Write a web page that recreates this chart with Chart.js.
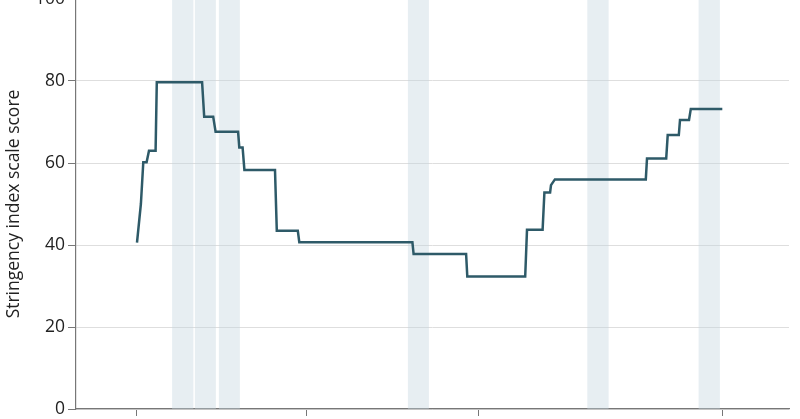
<!DOCTYPE html>
<html>
<head>
<meta charset="utf-8">
<script src="https://cdn.jsdelivr.net/npm/chart.js@4/dist/chart.umd.min.js"></script>
<style>
  html, body { margin: 0; padding: 0; background: #fff; overflow: hidden; }
  #wrap { position: absolute; left: 0; top: -40px; width: 800px; height: 470px; }
</style>
</head>
<body>
<div id="wrap"><canvas id="c"></canvas></div>
<script>
// Days since start of series (x) and stringency index score (y)
const days = [0, 1.3, 2.1, 3.2, 4, 6.2, 6.6, 21.7, 22.4, 25.4, 26.2, 33.7, 34.1, 35.2, 35.8,
  46, 46.6, 53.6, 54.1, 91.8, 92.2, 109.7, 110.1, 129.4, 130, 135.2, 135.8, 137.7, 138,
  138.3, 139.3, 169.6, 170, 176.4, 176.9, 180.6, 181, 184, 184.6, 195.1];
const scores = [40.6, 50, 60.2, 60.2, 63.0, 63.0, 79.7, 79.7, 71.3, 71.3, 67.6, 67.6, 63.8, 63.8, 58.3,
  58.3, 43.5, 43.5, 40.7, 40.7, 37.8, 37.8, 32.3, 32.3, 43.7, 43.7, 52.8, 52.8, 54.6,
  54.6, 56.0, 56.0, 61.1, 61.1, 66.8, 66.8, 70.5, 70.5, 73.2, 73.2];
// Shaded periods (start day, end day)
const bandStarts = [11.7, 19.3, 27.3, 90.3, 150.1, 187.2];
const bandEnds   = [18.8, 26.3, 34.3, 97.3, 157.2, 194.3];
// X tick positions (days), labels not shown in the crop
const xTickValues = [0, 56.5, 113.7, 195];
const yTitle = 'Stringency index scale score';

const points = days.map((d, i) => ({ x: d, y: scores[i] }));

const bandPlugin = {
  id: 'bands',
  beforeDatasetsDraw(chart) {
    const { ctx, chartArea, scales } = chart;
    ctx.save();
    ctx.fillStyle = 'rgba(195,212,222,0.4)';
    bandStarts.forEach((s, i) => {
      const x1 = scales.x.getPixelForValue(s);
      const x2 = scales.x.getPixelForValue(bandEnds[i]);
      ctx.fillRect(x1, chartArea.top, x2 - x1, chartArea.bottom - chartArea.top);
    });
    ctx.restore();
  }
};

new Chart(document.getElementById('c'), {
  type: 'line',
  data: {
    datasets: [{
      data: points,
      borderColor: '#2e5a68',
      borderWidth: 2.5,
      pointRadius: 0,
      tension: 0,
      fill: false
    }]
  },
  options: {
    responsive: true,
    maintainAspectRatio: false,
    animation: false,
    layout: { padding: { top: 39, right: 11, bottom: 14, left: 0 } },
    plugins: { legend: { display: false }, tooltip: { enabled: false } },
    scales: {
      x: {
        type: 'linear',
        min: -20.33,
        max: 217.33,
        afterBuildTicks(scale) { scale.ticks = xTickValues.map(v => ({ value: v })); },
        ticks: { display: false },
        grid: { drawOnChartArea: false, drawTicks: true, tickLength: 7, tickColor: '#777', lineWidth: 1 },
        border: { color: '#777', width: 1.2 }
      },
      y: {
        min: 0,
        max: 100,
        ticks: { stepSize: 20, color: '#222', padding: 3, font: { family: 'Open Sans', size: 17.5 } },
        grid: { color: '#dedede', lineWidth: 1, tickLength: 8, tickColor: '#777' },
        border: { color: '#777', width: 1.2 },
        title: { display: true, text: yTitle, color: '#222', font: { family: 'Open Sans', size: 17.5 }, padding: { top: 4, bottom: 0 } },
        afterFit(scale) { scale.width = 76; }
      }
    }
  },
  plugins: [bandPlugin]
});
</script>
</body>
</html>
